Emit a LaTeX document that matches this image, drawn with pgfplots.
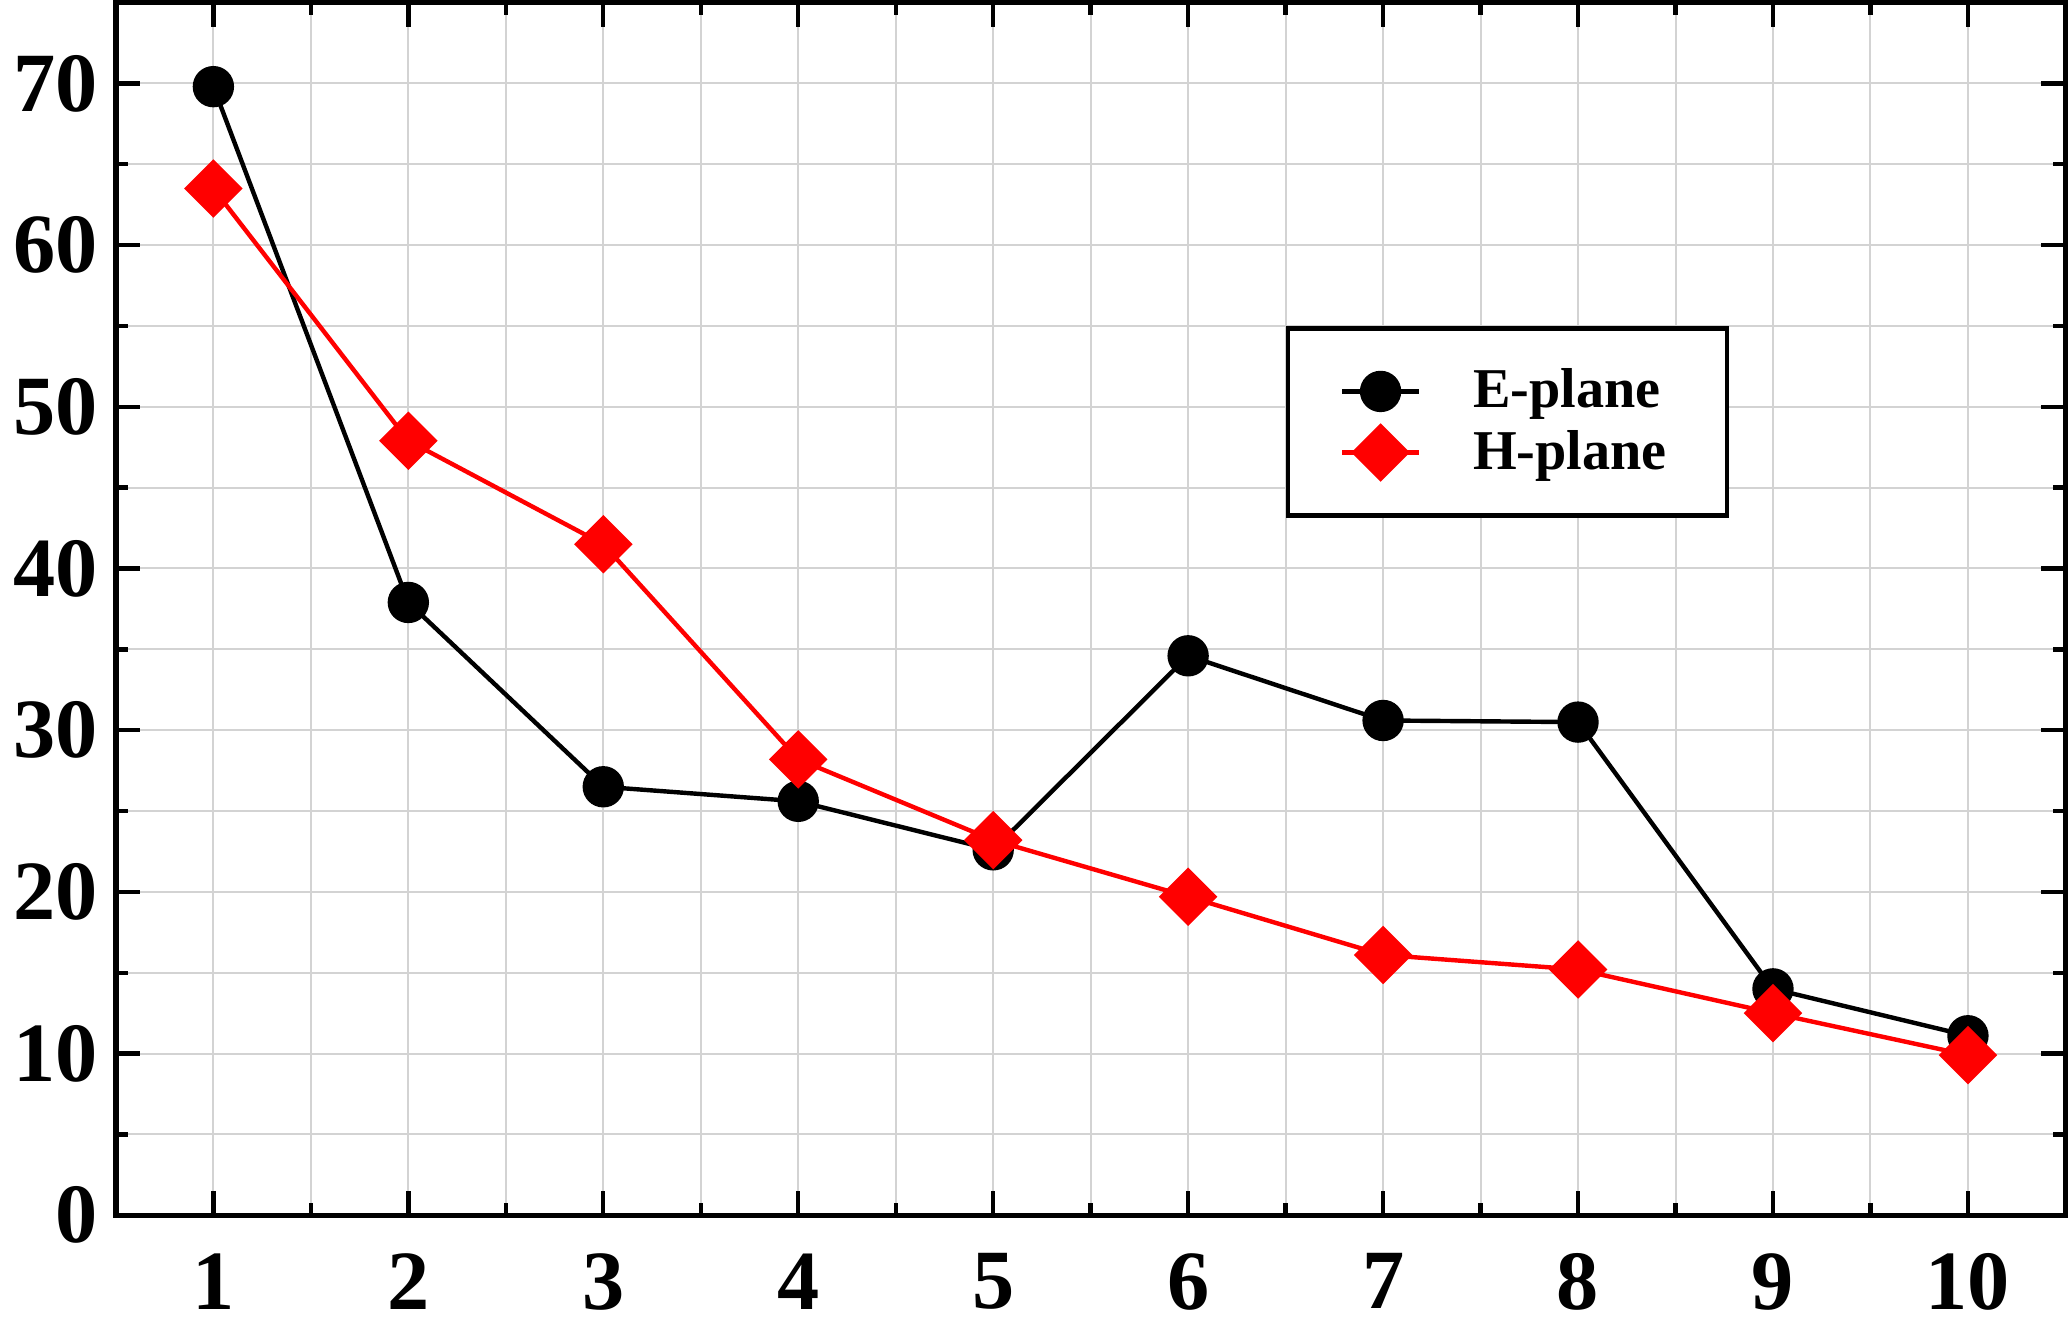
\documentclass[border=0pt]{standalone}
\usepackage{fontspec}
\setmainfont{Liberation Serif}
\usepackage{pgfplots}
\pgfplotsset{compat=1.18}

\definecolor{gridgray}{RGB}{211,211,211}
\definecolor{hred}{RGB}{255,0,0}

\begin{document}
\begin{tikzpicture}
\begin{axis}[
  scale only axis,
  width=485.5pt, height=302pt,
  xmin=0.5, xmax=10.5,
  ymin=0, ymax=75,
  xtick={1,...,10},
  ytick={0,10,...,70},
  minor x tick num=1,
  minor y tick num=1,
  tick align=inside,
  tick pos=both,
  major tick length=6pt,
  minor tick length=3pt,
  every tick/.style={black, line width=1.1pt},
  grid=both,
  major grid style={gridgray, line width=0.5pt},
  minor grid style={gridgray, line width=0.5pt},
  axis line style={line width=1.3pt},
  /pgf/number format/assume math mode=true,
  ticklabel style={font=\bfseries\fontsize{21}{24}\selectfont},
  xticklabel style={yshift=-6pt},
  yticklabel style={xshift=-1pt},
  legend style={
    at={(rel axis cs:0.600,0.733)}, anchor=north west,
    draw=black, line width=1.2pt,
    font=\bfseries\fontsize{14}{15.5}\selectfont,
    inner xsep=13pt, inner ysep=8pt,
    row sep=0pt,
  },
  legend cell align=left,
  legend image code/.code={
    \draw[mark repeat=2, mark phase=2]
      plot coordinates {(0pt,0pt) (9.5pt,0pt) (19pt,0pt)};
  },
  /tikz/every odd column/.append style={column sep=11pt},
]
% E-plane
\addplot[black, line width=1.1pt, mark=*, mark size=4.6pt,
  mark options={solid, fill=black}]
coordinates {
  (1, 69.8) (2, 37.9) (3, 26.5) (4, 25.6) (5, 22.6)
  (6, 34.6) (7, 30.6) (8, 30.5) (9, 14.0) (10, 11.1)
};
\addlegendentry{E-plane}
% H-plane
\addplot[hred, line width=1.1pt, mark=square*, mark size=4.6pt,
  mark options={solid, fill=hred, rotate=45}]
coordinates {
  (1, 63.5) (2, 47.9) (3, 41.5) (4, 28.2) (5, 23.2)
  (6, 19.7) (7, 16.1) (8, 15.2) (9, 12.5) (10, 9.9)
};
\addlegendentry{H-plane}
\end{axis}
\end{tikzpicture}
\end{document}
